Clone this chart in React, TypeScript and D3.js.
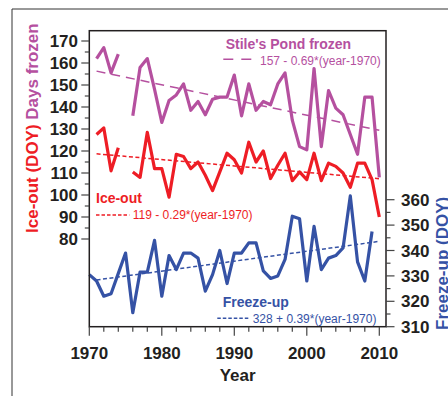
import { useRef, useEffect } from "react";
import * as d3 from "d3";

// years 1970..2010, one value per year (null = no record)
const years = d3.range(1970, 2011);

const daysFrozen = [
  null, 162, 167, 155.5, 164, null, 136, 158, 162, 148,
  133, 143, 145.5, 150.5, 138.5, 142.5, 136.5, 143.5, 144.5, 144.5,
  154.5, 136, 150.5, 138.5, 142.5, 141, 150.5, 155.5, 134, 122,
  120.5, 157.5, 122, 147.5, 139.5, 136.5, 127.5, 118.5, 144.5, 144.5,
  108,
];

const iceOut = [
  null, 127.5, 130.5, 111, 121.5, null, 110.5, 108, 128.5, 112,
  112, 99, 118.5, 117.5, 112, 115, 109, 102, 110.5, 119,
  116, 110, 124, 115, 120, 107.5, 113.5, 119, 106.5, 110.5,
  107, 119, 106.5, 114.5, 113, 110, 103.5, 114.5, 114.5, 107,
  90,
];

const freezeUp = [
  330.5, 328, 322, 323, 331, 339, 315.5, 331.5, 331.5, 344,
  322, 338, 332.5, 339, 339, 337, 324, 330.5, 340, 327,
  339, 339, 343, 343, 332, 329, 330, 336.5, 353.5, 352.5,
  328, 349.5, 332.5, 337, 338, 341, 361.5, 335.5, 328, 347.5,
  null,
];

// linear fits: value = intercept + slope*(year-1970)
const fitNames = ["Stile's Pond frozen", "Ice-out", "Freeze-up"];
const fitIntercepts = [157, 119, 328];
const fitSlopes = [-0.69, -0.29, 0.39];
const fitLabels = [
  "157 - 0.69*(year-1970)",
  "119 - 0.29*(year-1970)",
  "328 + 0.39*(year-1970)",
];
const fitRange = [1971, 2010];

const leftTicks = d3.range(80, 171, 10);
const leftMinor = d3.range(85, 170, 10);
const rightTicks = d3.range(310, 361, 10);
const rightMinor = d3.range(315, 360, 10);
const xTicks = [1970, 1980, 1990, 2000, 2010];
const xMinor = d3.range(1972, 2010, 2).filter((y) => y % 10 !== 0);

const PURPLE = "#b5509f";
const RED = "#ee1d25";
const BLUE = "#3552a5";
const INK = "#231f20";
const FONT = "'Liberation Sans', Arial, sans-serif";

const App = () => {
  const svgRef = useRef<SVGSVGElement>(null);

  useEffect(() => {
    const width = 448;
    const height = 396;
    const frame = { left: 89.3, right: 386, top: 30.7, bottom: 326.7 };

    const svg = d3
      .select(svgRef.current)
      .attr("width", width)
      .attr("height", height)
      .style("font-family", FONT);
    svg.selectAll("*").remove();

    const x = d3.scaleLinear().domain([1970, 2010]).range([89.3, 379.3]);
    const yL = d3.scaleLinear().domain([80, 170]).range([239, 41]);
    const yR = d3.scaleLinear().domain([310, 360]).range([326.7, 199.7]);

    // outer border
    svg
      .append("path")
      .attr("d", `M12,${height + 2} L12,9 L${width + 2},9`)
      .attr("fill", "none")
      .attr("stroke", "#333")
      .attr("stroke-width", 1);

    // ————— trend lines —————
    const scales = [yL, yL, yR];
    const colors = [PURPLE, RED, BLUE];
    const dashes = ["9,6", "4,2.5", "4,2.5"];
    fitNames.forEach((_, i) => {
      const pts = fitRange.map((yr) => [
        x(yr),
        scales[i](fitIntercepts[i] + fitSlopes[i] * (yr - 1970)),
      ]);
      svg
        .append("line")
        .attr("x1", pts[0][0])
        .attr("y1", pts[0][1])
        .attr("x2", pts[1][0])
        .attr("y2", pts[1][1])
        .attr("stroke", colors[i])
        .attr("stroke-width", 1.5)
        .attr("stroke-dasharray", dashes[i]);
    });

    // ————— data lines —————
    const series = [daysFrozen, iceOut, freezeUp];
    series.forEach((vals, i) => {
      const line = d3
        .line<number>()
        .defined((_, j) => vals[j] != null)
        .x((_, j) => x(years[j]))
        .y((_, j) => scales[i](vals[j] as number));
      svg
        .append("path")
        .datum(years)
        .attr("d", line as any)
        .attr("fill", "none")
        .attr("stroke", colors[i])
        .attr("stroke-width", 3.2)
        .attr("stroke-linejoin", "round");
    });

    // ————— frame —————
    svg
      .append("rect")
      .attr("x", frame.left)
      .attr("y", frame.top)
      .attr("width", frame.right - frame.left)
      .attr("height", frame.bottom - frame.top)
      .attr("fill", "none")
      .attr("stroke", INK)
      .attr("stroke-width", 1.5);

    // ————— ticks —————
    const ticks = svg.append("g").attr("stroke", "#444").attr("stroke-width", 1.2);
    const tk = (x1: number, y1: number, x2: number, y2: number) =>
      ticks.append("line").attr("x1", x1).attr("y1", y1).attr("x2", x2).attr("y2", y2);

    leftTicks.forEach((v) => tk(frame.left - 8, yL(v), frame.left, yL(v)));
    leftMinor.forEach((v) => tk(frame.left - 4.5, yL(v), frame.left, yL(v)));
    rightTicks.forEach((v) => tk(frame.right, yR(v), frame.right + 8.5, yR(v)));
    rightMinor.forEach((v) => tk(frame.right, yR(v), frame.right + 4.5, yR(v)));
    xTicks.forEach((v) => tk(x(v), frame.bottom, x(v), frame.bottom + 9));
    xMinor.forEach((v) => tk(x(v), frame.bottom, x(v), frame.bottom + 5));

    const lab = svg
      .append("g")
      .attr("fill", INK)
      .style("font-size", "17px")
      .style("font-weight", "bold");

    leftTicks.forEach((v) =>
      lab
        .append("text")
        .attr("x", 78)
        .attr("y", yL(v))
        .attr("dy", "0.36em")
        .attr("text-anchor", "end")
        .text(v)
    );
    rightTicks.forEach((v) =>
      lab
        .append("text")
        .attr("x", 401)
        .attr("y", yR(v))
        .attr("dy", "0.36em")
        .text(v)
    );
    xTicks.forEach((v) =>
      lab
        .append("text")
        .attr("x", x(v))
        .attr("y", 359)
        .attr("text-anchor", "middle")
        .text(v)
    );
    lab
      .append("text")
      .attr("x", (frame.left + frame.right) / 2)
      .attr("y", 381)
      .attr("text-anchor", "middle")
      .text("Year");

    // axis titles
    const lt = lab
      .append("text")
      .attr("transform", "translate(37.5,233) rotate(-90)");
    lt.append("tspan").attr("fill", RED).text("Ice-out (DOY) ");
    lt.append("tspan").attr("fill", PURPLE).text("Days frozen");

    lab
      .append("text")
      .attr("transform", "translate(447.5,330) rotate(-90)")
      .attr("fill", BLUE)
      .text("Freeze-up (DOY)");

    // ————— legends —————
    const legendPos = [
      { tx: 225.7, ty: 49, lx0: 223.3, lx1: 251.7, ly: 59.3, fx: 260, fy: 65 },
      { tx: 96, ty: 203.3, lx0: 96, lx1: 129.3, ly: 215, fx: 132.7, fy: 219.3 },
      { tx: 222.7, ty: 306.7, lx0: 217.3, lx1: 249.3, ly: 318.3, fx: 252.7, fy: 322.6 },
    ];
    fitNames.forEach((name, i) => {
      const p = legendPos[i];
      svg
        .append("text")
        .attr("x", p.tx)
        .attr("y", p.ty)
        .attr("fill", colors[i])
        .style("font-size", "14px")
        .style("font-weight", "bold")
        .text(name);
      svg
        .append("line")
        .attr("x1", p.lx0)
        .attr("x2", p.lx1)
        .attr("y1", p.ly)
        .attr("y2", p.ly)
        .attr("stroke", colors[i])
        .attr("stroke-width", 1.5)
        .attr("stroke-dasharray", i === 0 ? "10,8" : "3.5,2");
      svg
        .append("text")
        .attr("x", p.fx)
        .attr("y", p.fy)
        .attr("fill", colors[i])
        .style("font-size", "12px")
        .text(fitLabels[i]);
    });

    return () => {
      svg.selectAll("*").remove();
    };
  }, []);

  return (
    <svg
      ref={svgRef}
      style={{ position: "absolute", left: 0, top: 0, background: "#fff" }}
    ></svg>
  );
};

export default App;
